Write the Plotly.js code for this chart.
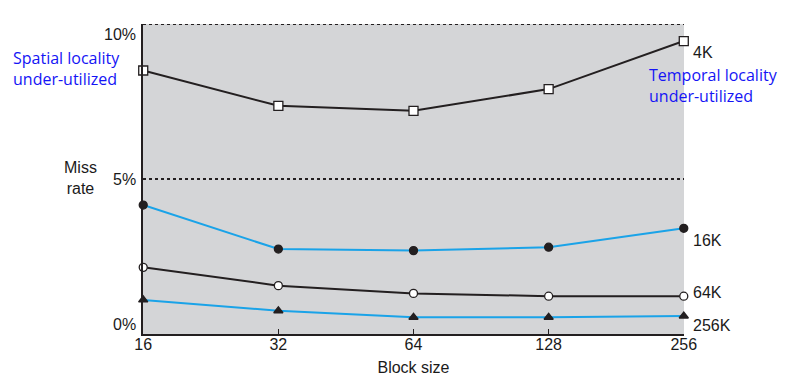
<!DOCTYPE html>
<html><head><meta charset="utf-8">
<script src="https://cdn.plot.ly/plotly-3.0.1.min.js"></script>
<style>body{margin:0;background:#fff}#chart{width:789px;height:388px}</style>
</head><body><div id="chart"></div>
<script>
const blockSizes = [16, 32, 64, 128, 256];
const tickLabels = ['16', '32', '64', '128', '256'];
const missRate4K = [8.5, 7.36, 7.2, 7.9, 9.45];
const missRate16K = [4.16, 2.74, 2.69, 2.80, 3.41];
const missRate64K = [2.15, 1.56, 1.31, 1.22, 1.22];
const missRate256K = [1.10, 0.75, 0.54, 0.54, 0.58];
const seriesNames = ['4K', '16K', '64K', '256K'];
const yTickVals = [0, 5, 10];
const yTickText = ['0%', '5%', '10%'];

const BLACK = '#231f20', BLUE = '#1aa3e8';
function tr(y, color, symbol, fill, name) {
  return {x: blockSizes, y: y, type: 'scatter', mode: 'lines+markers', name: name,
    line: {color: color, width: 2}, cliponaxis: false,
    marker: {symbol: symbol, size: symbol === 'square' ? 9 : 8, color: fill, line: {color: BLACK, width: 1.3}}};
}
const data = [
  tr(missRate256K, BLUE, 'triangle-up', BLACK, seriesNames[3]),
  tr(missRate64K, BLACK, 'circle', '#ffffff', seriesNames[2]),
  tr(missRate16K, BLUE, 'circle', BLACK, seriesNames[1]),
  tr(missRate4K, BLACK, 'square', '#ffffff', seriesNames[0])
];
const font = {family: '"Liberation Sans", Arial, sans-serif', size: 16, color: '#1a1a1a'};
const ann = [];
const lastVals = [missRate4K[4], missRate16K[4], missRate64K[4], missRate256K[4]];
const labelShift = [-11, -12, 4, -9];
seriesNames.forEach((n, i) => ann.push({x: Math.log10(256), y: lastVals[i], xref: 'x', yref: 'y', text: n,
  showarrow: false, xanchor: 'left', xshift: 7, yshift: labelShift[i], font: font}));
const ytShift = [10, 0, -10];
yTickVals.forEach((v, i) => ann.push({x: 0, xref: 'paper', y: v, yref: 'y', text: yTickText[i], showarrow: false,
  xanchor: 'right', xshift: -5, yshift: ytShift[i], font: font}));
ann.push({x: 0, xref: 'paper', y: 5, yref: 'y', text: 'Miss<br>rate', showarrow: false, xanchor: 'center',
  xshift: -63, yshift: 1, font: font, align: 'center'});
const blueFont = {family: '"Open Sans", sans-serif', size: 16, color: '#1414f5'};
ann.push({x: 11, y: 68, xref: 'paper', yref: 'paper', text: 'Spatial locality<br>under-utilized', showarrow: false,
  font: blueFont, align: 'left', xanchor: 'left', yanchor: 'middle'});
ann.push({x: 647, y: 85, xref: 'paper', yref: 'paper', text: 'Temporal locality<br>under-utilized', showarrow: false,
  font: blueFont, align: 'left', xanchor: 'left', yanchor: 'middle'});
const L = 143, R = 105, T = 24, B = 54, W = 789, H = 388;
ann.forEach(a => {
  if (a.xref === 'paper' && a.x > 1) {
    a.x = (a.x - L) / (W - L - R);
    a.y = 1 - (a.y - T) / (H - T - B);
  }
});
const shapes = [5, 10].map(v => ({type: 'line', xref: 'paper', x0: 0, x1: 1, yref: 'y', y0: v, y1: v,
  line: {color: BLACK, width: 2, dash: 'dot'}}));
const eps = 0.0005;
const layout = {
  width: W, height: H, margin: {l: L, r: R, t: T, b: B},
  paper_bgcolor: '#ffffff', plot_bgcolor: '#d4d5d7', showlegend: false,
  xaxis: {type: 'log', range: [Math.log10(16) - eps, Math.log10(256) + eps], tickvals: blockSizes, ticktext: tickLabels,
    ticks: 'inside', ticklen: 5, tickwidth: 1.5, tickcolor: BLACK, showgrid: false, zeroline: false,
    showline: true, linecolor: BLACK, linewidth: 2, tickfont: font, ticklabelstandoff: -5,
    title: {text: 'Block size', font: font, standoff: 10}},
  yaxis: {range: [0, 10], showgrid: false, zeroline: false, showline: true, linecolor: BLACK, linewidth: 2.5,
    tickvals: yTickVals, showticklabels: false, ticks: ''},
  annotations: ann, shapes: shapes, font: font
};
Plotly.newPlot('chart', data, layout, {displayModeBar: false, staticPlot: true});
</script></body></html>
